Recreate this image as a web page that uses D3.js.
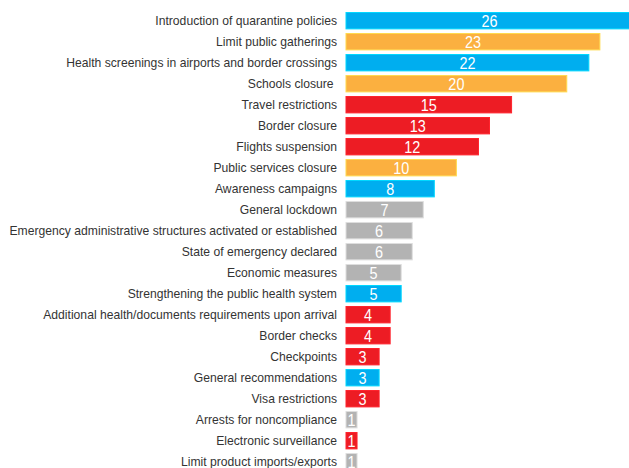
<!DOCTYPE html>
<html>
<head>
<meta charset="utf-8">
<script src="https://cdn.jsdelivr.net/npm/d3@7"></script>
<style>
  html, body { margin: 0; padding: 0; background: #fff; overflow: hidden; }
</style>
</head>
<body>
<div id="chart"></div>
<script>
// Measures and how many countries took them
const measures = [
  "Introduction of quarantine policies",
  "Limit public gatherings",
  "Health screenings in airports and border crossings",
  "Schools closure ",
  "Travel restrictions",
  "Border closure",
  "Flights suspension",
  "Public services closure",
  "Awareness campaigns",
  "General lockdown",
  "Emergency administrative structures activated or established",
  "State of emergency declared",
  "Economic measures",
  "Strengthening the public health system",
  "Additional health/documents requirements upon arrival",
  "Border checks",
  "Checkpoints",
  "General recommendations",
  "Visa restrictions",
  "Arrests for noncompliance",
  "Electronic surveillance",
  "Limit product imports/exports"
];
const counts = [26, 23, 22, 20, 15, 13, 12, 10, 8, 7, 6, 6, 5, 5, 4, 4, 3, 3, 3, 1, 1, 1];
const groups = ["health", "social", "health", "social", "movement", "movement", "movement", "social",
  "health", "other", "other", "other", "other", "health", "movement", "movement", "movement",
  "health", "movement", "other", "movement", "other"];

const width = 629, height = 468;
const left = 346;
const font = "'Liberation Sans', Arial, sans-serif";

var color = d3.scaleOrdinal()
  .domain(["health", "social", "movement", "other"])
  .range(["#00aeef", "#fbb040", "#ed1c24", "#b3b3b3"]);

var x = d3.scaleLinear()
  .domain([0, 26])
  .range([left, left + 287]);

var y = d3.scaleBand()
  .domain(measures)
  .range([10.2, 472.2])
  .paddingInner(0.22)
  .paddingOuter(0.11);

var svg = d3.select("#chart").append("svg")
  .attr("width", width)
  .attr("height", height);

var row = svg.selectAll(".row")
  .data(measures)
  .enter()
  .append("g")
  .attr("class", "row");

// bars
row.append("rect")
  .attr("x", x(0))
  .attr("y", d => y(d))
  .attr("width", (d, i) => x(counts[i]) - x(0))
  .attr("height", y.bandwidth())
  .style("fill", (d, i) => color(groups[i]))
  .style("stroke", (d, i) => d3.color(color(groups[i])).brighter(0.6))
  .style("stroke-width", 1);

// category labels (slightly condensed, like the original narrow face)
row.append("g")
  .attr("transform", d => "translate(" + (left - 9) + "," + (y(d) + y.bandwidth() / 2) + ") scale(0.935,1)")
  .append("text")
  .attr("dy", "0.35em")
  .attr("text-anchor", "end")
  .style("font-family", font)
  .style("font-size", "13px")
  .style("fill", "#333")
  .style("white-space", "pre")
  .text(d => d);

// value labels
row.append("g")
  .attr("transform", (d, i) => "translate(" + (x(0) + x(counts[i])) / 2 + "," + (y(d) + y.bandwidth() / 2) + ") scale(0.85,1)")
  .append("text")
  .attr("dy", "0.37em")
  .attr("text-anchor", "middle")
  .style("font-family", font)
  .style("font-size", "17px")
  .style("fill", "#fff")
  .text((d, i) => counts[i]);
</script>
</body>
</html>
